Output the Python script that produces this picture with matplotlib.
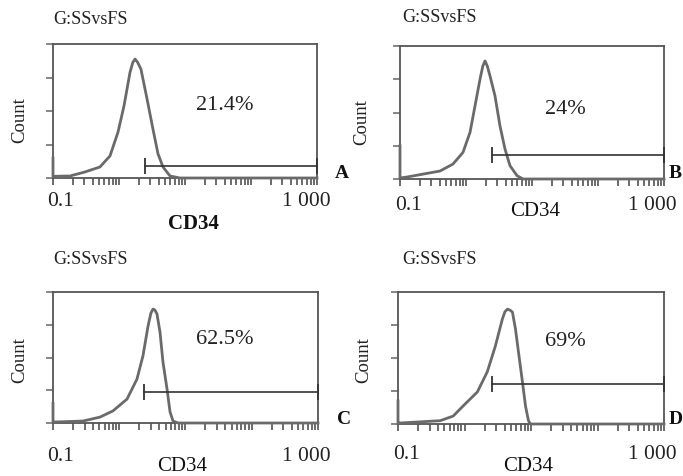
import matplotlib
matplotlib.use('Agg')
import matplotlib.pyplot as plt
from matplotlib.ticker import LogLocator, NullFormatter

plt.rcParams['font.family'] = ['Liberation Serif', 'DejaVu Serif']

W, H = 683, 477

# histogram traces (CD34 value, count in grid units)
cd34_a = [0.1, 0.1, 0.181, 0.305, 0.515, 0.731, 0.966, 1.19, 1.47, 1.62, 1.75, 1.92, 2.15,
          2.66, 3.27, 3.90, 4.64, 5.93, 8.4, 1000]
count_a = [0.6, 0.05, 0.06, 0.18, 0.33, 0.66, 1.37, 2.15, 3.16, 3.45, 3.55, 3.45, 3.25,
           2.36, 1.46, 0.72, 0.33, 0.06, 0.0, 0.0]

cd34_b = [0.1, 0.1, 0.128, 0.404, 0.635, 0.90, 1.15, 1.37, 1.63, 1.80, 1.94, 2.10, 2.31,
          2.75, 3.27, 3.90, 4.64, 5.93, 7.31, 1000]
count_b = [1.0, 0.03, 0.06, 0.24, 0.45, 0.8, 1.4, 2.2, 3.0, 3.40, 3.55, 3.40, 3.1,
           2.5, 1.6, 0.9, 0.4, 0.1, 0.0, 0.0]

cd34_c = [0.1, 0.1, 0.107, 0.284, 0.512, 0.805, 1.31, 1.85, 2.28, 2.72, 3.0, 3.23,
          3.45, 3.71, 4.12, 4.57, 5.26, 5.84, 6.48, 7.71, 1000]
count_c = [0.6, 0.03, 0.03, 0.06, 0.18, 0.37, 0.73, 1.34, 2.05, 2.96, 3.35, 3.48,
           3.45, 3.33, 2.78, 1.86, 1.04, 0.34, 0.06, 0.0, 0.0]

cd34_d = [0.1, 0.1, 0.107, 0.430, 0.676, 0.957, 1.56, 2.20, 2.91, 3.71, 4.05, 4.42,
          4.85, 5.26, 5.84, 6.48, 7.44, 8.26, 9.16, 9.82, 1000]
count_d = [0.7, 0.03, 0.03, 0.1, 0.24, 0.55, 0.97, 1.58, 2.36, 3.18, 3.40, 3.48,
           3.45, 3.39, 2.88, 2.18, 1.27, 0.55, 0.1, 0.0, 0.0]

# gate marker: start value, level
gate_start = [2.48, 2.48, 2.37, 2.62]
gate_level = [0.36, 0.72, 0.95, 1.21]
percent = ['21.4%', '24%', '62.5%', '69%']
letters = ['A', 'B', 'C', 'D']

xs = [cd34_a, cd34_b, cd34_c, cd34_d]
ys = [count_a, count_b, count_c, count_d]

# axes boxes in pixels: left, top, right, bottom
boxes = [(53, 45, 317, 179), (400, 47, 664, 180),
         (53, 293, 318, 424), (398, 293, 664, 425)]
title_px = [(53, 19), (402, 18), (53, 260), (402, 260)]
count_px = [(20, 120), (362, 122), (20, 360), (364, 360)]
pct_px = [(225, 106), (565, 110), (225, 340), (565, 342)]
lo_px = [(61, 201), (408, 206), (61, 457), (406, 455)]
hi_px = [(306, 201), (652, 206), (306, 457), (652, 455)]
cd_px = [(193, 224), (535, 212), (182, 467), (528, 467)]
letter_px = [(342, 174), (675, 174), (344, 420), (676, 420)]

fig = plt.figure(figsize=(W / 100, H / 100), dpi=100)


def fx(px):
    return px / W


def fy(py):
    return 1 - py / H


frame = '#555555'
for i in range(4):
    l, t, r, b = boxes[i]
    ax = fig.add_axes([fx(l), fy(b), (r - l) / W, (b - t) / H])
    ax.plot(xs[i], ys[i], color='#6a6a6a', lw=2.0, clip_on=False, zorder=3)
    ax.plot([gate_start[i], 1000], [gate_level[i], gate_level[i]], color='#333333',
            lw=1.2, marker='|', ms=11, mew=1.3, clip_on=False, zorder=4)
    ax.set_xscale('log')
    ax.set_xlim(0.1, 1000)
    ax.set_ylim(0, 4)
    ax.set_yticks([0, 1, 2, 3, 4])
    ax.set_yticklabels([])
    ax.set_xticks([0.1, 1, 10, 100, 1000])
    ax.set_xticklabels([])
    ax.xaxis.set_minor_locator(LogLocator(base=10, subs=range(2, 10)))
    ax.xaxis.set_minor_formatter(NullFormatter())
    ax.tick_params(axis='x', which='both', direction='out', length=5, width=1.1,
                   color='#444444', top=False)
    ax.tick_params(axis='y', direction='out', length=5, width=1.1,
                   color='#666666', right=False)
    for s in ax.spines.values():
        s.set_color(frame)
        s.set_linewidth(1.3)

    fig.text(fx(title_px[i][0]), fy(title_px[i][1]), 'G:SSvsFS', fontsize=13,
             ha='left', va='center', color='#222222')
    fig.text(fx(count_px[i][0]), fy(count_px[i][1]), 'Count', fontsize=13.5,
             rotation=90, ha='center', va='center', color='#222222')
    fig.text(fx(pct_px[i][0]), fy(pct_px[i][1]), percent[i], fontsize=16,
             ha='center', va='center', color='#222222')
    fig.text(fx(lo_px[i][0]), fy(lo_px[i][1]), '0.1', fontsize=15.5,
             ha='center', va='center', color='#222222')
    fig.text(fx(hi_px[i][0]), fy(hi_px[i][1]), '1 000', fontsize=15.5,
             ha='center', va='center', color='#222222')
    fig.text(fx(cd_px[i][0]), fy(cd_px[i][1]), 'CD34', fontsize=15,
             ha='center', va='center', color='#111111',
             fontweight='bold' if i == 0 else 'normal')
    fig.text(fx(letter_px[i][0]), fy(letter_px[i][1]), letters[i], fontsize=14,
             fontweight='bold', ha='center', va='center', color='#111111')

fig.savefig('out.png', dpi=100)
